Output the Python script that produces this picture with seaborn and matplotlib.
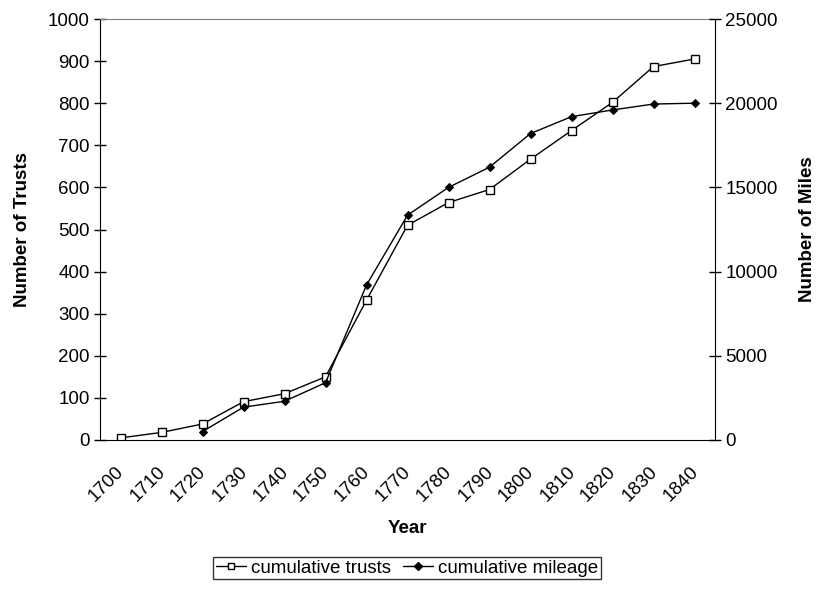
import numpy as np
import pandas as pd
import matplotlib
matplotlib.use("Agg")
import matplotlib.pyplot as plt
import matplotlib.transforms as mtransforms
from matplotlib.lines import Line2D
from matplotlib.ticker import FixedLocator
import seaborn as sns

sns.set_style("white")
plt.rcParams["font.family"] = ["Liberation Sans", "DejaVu Sans"]
plt.rcParams.update({"text.color": "black", "axes.labelcolor": "black",
                     "xtick.color": "black", "ytick.color": "black"})

years = [1700, 1710, 1720, 1730, 1740, 1750, 1760, 1770, 1780, 1790,
         1800, 1810, 1820, 1830, 1840]
cumulative_trusts = [5, 18, 38, 91, 110, 150, 332, 510, 564, 595,
                     667, 735, 802, 887, 905]
cumulative_mileage = [np.nan, np.nan, 500, 1950, 2300, 3400, 9200, 13350,
                      15000, 16200, 18200, 19200, 19600, 19950, 20000]

FS = 13.5

pos = np.arange(len(years))
df = pd.DataFrame({"pos": pos, "trusts": cumulative_trusts,
                   "miles": cumulative_mileage})

fig = plt.figure(figsize=(8.16, 5.90), dpi=100)
ax = fig.add_axes([100 / 816, 1 - 440 / 590, 615 / 816, 421 / 590])
ax2 = ax.twinx()

sns.lineplot(data=df, x="pos", y="trusts", ax=ax, color="black", lw=1,
             marker="s", markersize=6, markerfacecolor="white",
             markeredgecolor="black", markeredgewidth=1)
sns.lineplot(data=df.dropna(), x="pos", y="miles", ax=ax2, color="black",
             lw=1, marker="D", markersize=4.5, markerfacecolor="black",
             markeredgecolor="black")

ax.set_xlim(-0.5, len(years) - 0.5)
ax.set_ylim(0, 1000)
ax2.set_ylim(0, 25000)

# category boundaries carry the tick marks; labels sit at category centres
ax.xaxis.set_major_locator(FixedLocator(np.arange(-0.5, len(years), 1.0)))
ax.set_xticklabels([])
ax.xaxis.set_minor_locator(FixedLocator(pos))
ax.set_xticklabels([str(y) for y in years], minor=True, rotation=45,
                   ha="right", va="top", rotation_mode="anchor")
ax.tick_params(axis="x", which="major", direction="inout", length=10,
               width=1, color="black")
ax.tick_params(axis="x", which="minor", length=0, pad=17, labelsize=FS)
shift = mtransforms.ScaledTranslation(-5 / 100, 0, fig.dpi_scale_trans)
for lbl in ax.get_xticklabels(minor=True):
    lbl.set_transform(lbl.get_transform() + shift)

ax.set_yticks(np.arange(0, 1001, 100))
ax.tick_params(axis="y", which="major", direction="inout", length=9,
               width=1, color="black", labelsize=FS, left=True, pad=3)
ax2.set_yticks(np.arange(0, 25001, 5000))
ax2.tick_params(axis="y", which="major", direction="inout", length=9,
                width=1, color="black", labelsize=FS, right=True, pad=3)

for a in (ax, ax2):
    for s in a.spines.values():
        s.set_visible(False)
ax.spines["left"].set_visible(True)
ax.spines["left"].set_color("black")
ax.spines["bottom"].set_visible(True)
ax.spines["bottom"].set_color("black")
ax.spines["top"].set_visible(True)
ax.spines["top"].set_color("#808080")
ax2.spines["right"].set_visible(True)
ax2.spines["right"].set_color("black")

ax.set_xlabel("Year", fontsize=FS, fontweight="bold")
ax.xaxis.set_label_coords(0.5, -0.19)
ax.set_ylabel("Number of Trusts", fontsize=FS, fontweight="bold", labelpad=12)
ax2.set_ylabel("Number of Miles", fontsize=FS, fontweight="bold", labelpad=15)

handles = [
    Line2D([], [], color="black", lw=1, marker="s", markersize=5,
           markerfacecolor="white", markeredgecolor="black"),
    Line2D([], [], color="black", lw=1, marker="D", markersize=4,
           markerfacecolor="black", markeredgecolor="black"),
]
leg = fig.legend(handles, ["cumulative trusts", "cumulative mileage"],
                 loc="center", bbox_to_anchor=(407 / 816, 1 - 568 / 590),
                 ncol=2, frameon=True, fancybox=False, fontsize=FS,
                 handlelength=1.6, handletextpad=0.3, columnspacing=0.6,
                 borderpad=0.15, borderaxespad=0)
leg.get_frame().set_edgecolor("black")
leg.get_frame().set_linewidth(1)

fig.savefig("out.png", dpi=100)
